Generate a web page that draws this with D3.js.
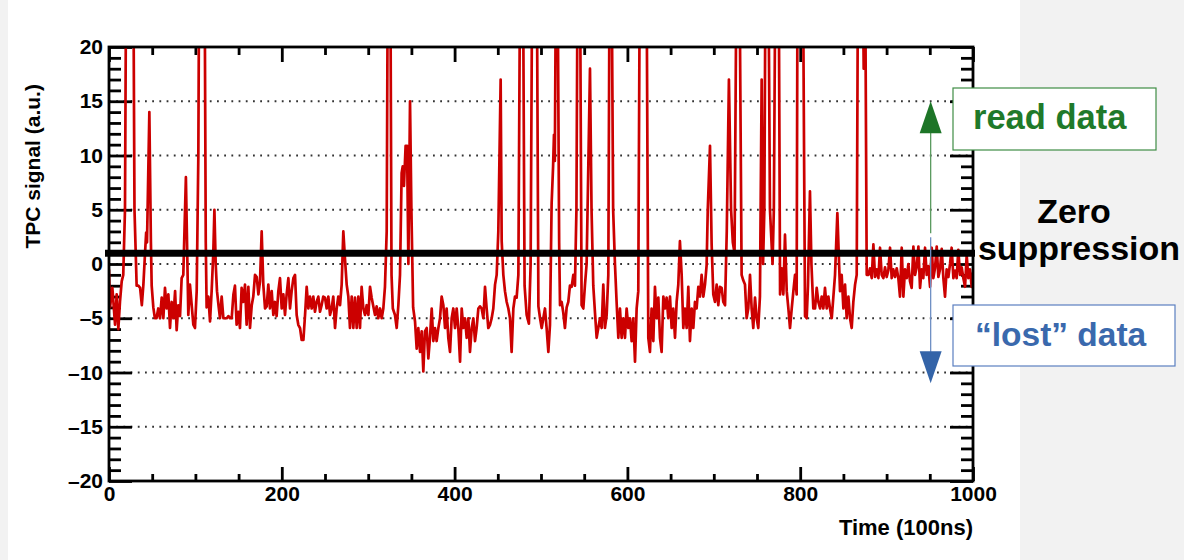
<!DOCTYPE html>
<html>
<head>
<meta charset="utf-8">
<script src="https://cdn.jsdelivr.net/npm/d3@7"></script>
<style>
body{margin:0;background:#f2f2f2;}
svg{display:block;font-family:"Liberation Sans",Arial,Helvetica,sans-serif;font-weight:bold;}
</style>
</head>
<body>
<div id="chart"></div>
<script>
// ---- data: [time (100ns), TPC signal (a.u.)], values above 20 are off scale ----
var signalA=[[0,-0.5],[1.2,-4],[3.9,-2.2],[7,-5.6],[8.9,-2.8],[10.8,-6],[12.7,-3.5],[14.7,-1.6],[16.5,-1],[18.5,5],[20,30],[28,30],[29.5,5],[32,-2],[34,-2],[36,-2.2],[38,-3.8],[39.8,-1.9],[41.7,1],[43,2.9],[44,2],[46.7,14],[48.5,2],[49.4,-2],[51.3,-4],[53.1,-5],[55,-5],[57,-4.1],[59,-5],[61,-3.1],[62.9,-5],[64.8,-2.2],[66.7,-4.1],[68.7,-2.8],[70.6,-5.9],[72.5,-3.5],[74.5,-5],[76.5,-2.5],[78.3,-6.1],[80.2,-3.8],[82.2,-4.8],[84.1,-1.3],[86,-1],[89,8],[91.8,-4.7],[93.7,-1.9],[95.7,-3.8],[97.6,-5.6],[99.5,-5.9],[101.5,-2.5],[103.4,10],[104.5,30],[110.5,30],[112,2],[113,-4],[115,-3],[116.9,-5.3],[118.8,-2.5],[120.7,1],[122,5],[123.5,0],[125,-2.5],[127,-4],[128.5,-5],[130.4,-3],[132.4,-5],[134.3,-5],[136.3,-5],[138.2,-4.8],[140.1,-5],[142,-5],[144,-2.8],[145.8,-2],[147.7,-5.6],[149.7,-4.4],[151.6,-5.9],[153.5,-2.2],[155.5,-3.5],[157.4,-1.9],[159.3,-5.6],[161.3,-2.1],[163.2,-5.9],[165.2,-3.8],[167,-3],[169,-1],[171,-1.2],[172.9,-2.8],[174.8,-1.6],[176.7,3],[178.6,-1.9],[180.6,-4.1],[182.5,-3.9],[184.4,-1.9],[186.3,-4.1],[188.3,-2.5],[190.2,-4.7],[192.1,-3.5],[194,-4.8],[196,-2.5],[197.9,-1.3],[199.9,-4.1],[201.8,-2.8],[203.7,-4.7],[205.6,-2.8],[207.6,-1.3],[209.5,-4.1],[211.4,-2.5],[213.4,-1.3],[215.3,-1],[217.2,-4.7],[219.1,-5.6],[221.1,-5.9],[223,-7],[225,-7],[226.9,-4.7],[228.8,-2.1],[230.7,-4.1],[232.6,-3],[234.6,-4.1],[236.5,-3],[238.4,-4.4],[240.3,-3.5],[242.3,-3],[244.2,-4.4],[246.1,-3.8],[248,-3],[250,-3.1]];
var signalB=[[251.9,-4.1],[253.9,-3],[255.8,-4.7],[257.7,-4.1],[259.6,-3],[261.6,-5.9],[263.5,-4.1],[265.4,-3],[267.4,-3.8],[269.3,-1.9],[271.2,3],[273.1,0.5],[275.1,-1.9],[277,-3],[278.9,-5.9],[280.9,-3],[282.8,-5.9],[284.7,-3.1],[286.7,-5.9],[288.6,-3],[290.5,-5.9],[292.4,-2.1],[294.4,-4.1],[296.3,-4.7],[298.2,-3.8],[300.2,-4.7],[302.1,-2.1],[304,-3.1],[305.9,-3.9],[307.9,-4.7],[309.8,-3.9],[311.7,-5],[313.7,-4.1],[315.6,-5],[317.5,-4.1],[319.4,-2.1],[321.4,3],[322.8,30],[325.5,30],[327,-1],[328.5,-4.1],[331,-4.7],[333,-5.9],[334.9,-3.8],[336.8,-1],[338.7,8.4],[340,9],[341.4,7.2],[343.3,10.9],[345,10.9],[346.5,0],[348.4,15],[350,5],[352,-4],[354.2,-5.3],[356.1,-7.8],[358,-5.9],[360,-8.1],[361.9,-6.2],[363.8,-9.9],[365.7,-6.2],[367.7,-5.9],[369.6,-8.7],[371.5,-6.8],[373.5,-4.1],[375.4,-7.1],[377.3,-5.9],[379.2,-7.1],[381.2,-5.9],[383.1,-5],[385,-3],[387,-3.8],[388.9,-5.9],[390.8,-4.1],[392.7,-6.8],[394.7,-8.1],[396.6,-5],[398.5,-4.1],[400.5,-5.9],[402.4,-4.1],[404.3,-5.9],[406.3,-9],[408.2,-4.1],[410.1,-5.9],[412,-5],[414,-6.8],[415.9,-5],[417.8,-8.1],[419.8,-5.9],[421.7,-5],[423.6,-7.1],[425.5,-5.9],[427.5,-4.1],[429.4,-3.9],[431.3,-4.1],[433.3,-5],[435.2,-2.1],[437.1,-4.1],[439,-5.9],[441,-5.6],[442.9,-5],[444.8,-4.1],[446.8,-1.9],[448.7,-1],[450.6,3],[453.3,17],[454.5,2.1],[456.4,-1],[458.3,-2.5],[460.3,-3.5],[462.2,-4.1],[464.1,-5],[466,-8.1],[468,-4.1],[469.9,-3],[471.8,-3.1],[473.8,-1],[476,30],[479,30],[481,-2],[483.4,-4.7],[486,-5.5],[488,0],[490,30],[495,30],[497,-3.9],[498.9,-5],[500.8,-5.9],[502.7,-5]];
var signalC=[[504.6,-4.1],[506.5,-5.9],[508.5,-8.1],[510.4,-5.6],[512.3,5.6],[514,9],[515,11.9],[516,9.5],[517.5,30],[519,30],[521,2],[522,-3.8],[523.9,-3.5],[525.8,-4.5],[527.7,-5.9],[529.7,-4],[531.6,-3.5],[533.5,-2],[535.5,-2.1],[537.4,-1],[539.3,-2],[541,5],[542.5,30],[545,30],[547,-3.8],[549,-4.1],[550.9,-1.9],[552.8,0],[556.7,18],[558.5,5],[560.5,-2],[562.5,-4.5],[564.4,-6.8],[566.3,-5.9],[568.3,-5],[570.2,-5.9],[572.1,-1.9],[574,-5.9],[576,-4.7],[577.9,-1],[579.5,30],[581.5,30],[583.5,5],[585.6,0],[587.5,-3.5],[589.5,-6.8],[591.4,-4.1],[593.3,-6.8],[595.3,-5],[597.2,-6.8],[599.1,-4.1],[601.1,-5.9],[603,-5],[604.9,-7.1],[606.8,-5],[608.8,-9],[610.7,-4.1],[612.6,-2.5],[614.5,30],[622,30],[624.2,-6.8],[626.1,-8.1],[628,-4.1],[630,-7.1],[631.9,-2.1],[633.8,-5],[635.8,-3.1],[637.7,-6.8],[639.6,-8.1],[641.6,-3],[643.5,-4.1],[645.4,-3.1],[647.3,-5],[649.3,-3],[651.2,-5.9],[653.1,-4.1],[655.1,-6.8],[657,-3.5],[658.9,-1.9],[660.8,2.1],[662.8,-1],[664.7,-5.9],[666.6,-4.1],[668.6,-5.9],[670.5,-2.1],[672.4,-7.1],[674.4,-4.1],[676.3,-5.9],[678.2,-3.5],[680.1,-4.1],[682.1,-2.1],[684,-3],[685.9,-1],[687.9,-3],[689.8,-1.9],[691.7,-0.1],[693,5],[695.6,10.9],[697.5,1.8],[699.4,-2.8],[701.4,-3.5],[703.3,-1.9],[705.2,-3.8],[707.1,-2.1],[709.1,-2.2],[711,-3.5],[713,-3.8],[715,3],[717.5,17],[720,5],[722,2],[724,1],[726.5,30],[729.5,30],[732.2,-1],[734.1,-1.5],[736.1,-1.9],[738,-5],[739.9,-4.1],[741.9,-1],[743.8,-4.1],[745.7,-5.9],[747.7,-3.1],[749.6,-5]];
var signalD=[[751.5,-5.9],[753.4,-3],[755.4,17],[757,0],[758.5,5],[760,30],[763,30],[765,5],[768,0],[769.5,5],[771.5,30],[775,30],[776.7,-2.8],[778.6,-0.4],[780.5,-2.8],[782.4,2.7],[784.4,-2.5],[786.3,-4.1],[788.2,-5.9],[790.2,-4.1],[792.1,-2.5],[794,-1],[795.9,-2.8],[797,30],[803,30],[805.6,-4.8],[807.5,-5],[809,-2],[811.3,6.7],[813,0],[815.2,-4.1],[817.2,-4.1],[819.1,-2.2],[821,-3.5],[823,-4.1],[824.9,-3],[826.8,-4.1],[828.7,-2.2],[830.7,-4.1],[832.6,-3],[834.5,-4.1],[836.5,-5],[838.4,-3],[840.3,-1],[843,4.7],[846.1,-2.5],[848,-1],[850,-4.1],[851.9,-1.9],[853.8,-5],[855.8,-3],[857.7,-5],[859.6,-5.9],[861.5,-3.5],[863.5,-1.9],[865.4,-1],[867,30],[872,30],[873.5,18],[875,30],[877,-1],[878.9,-1],[880.8,-0.4],[882.8,-1.3],[884.7,1.8],[886.6,-1.2],[888.5,-0.5],[890.5,-1.3],[892.4,1.5],[894.3,-1],[896.3,-1.3],[898.2,-0.3],[900.1,-1.2],[902,-0.6],[904,1.5],[905.9,-1.3],[907.8,-0.5],[909.8,-1.2],[911.7,-0.4],[913.6,-1.3],[915.5,-3],[917.5,1.5],[919.4,-3],[921.3,-0.5],[923.3,-1.3],[925.2,0],[927.1,-1.6],[929,-2.2],[931,1.6],[932.9,-1],[934.8,-0.3],[936.8,1.6],[938.7,-2.2],[940.6,-0.5],[942.5,-1.3],[944.5,1.5],[946.4,-1],[948.3,-0.2],[950.3,-2.1],[952.2,1.5],[954.1,-1.3],[956,-0.4],[958,1.6],[959.9,-1.2],[961.8,-0.5],[963.8,1.4],[965.7,-1.3],[967.6,-3],[969.5,-0.5],[971.5,-1.2],[973.4,0],[975.3,1.5],[977.3,-1.3],[979.2,-0.6],[981.1,-1.3],[983,1.3],[985,-1],[986.9,-0.3],[988.8,-1.3],[990.8,-2.1],[992.7,0.8],[994.6,-1.3],[996.5,-0.5],[998.5,-2.1],[1000,-0.8]];

var xMajor=[0,200,400,600,800,1000];
var xMinor=[50,100,150,250,300,350,450,500,550,650,700,750,850,900,950];
var yMajor=[-20,-15,-10,-5,0,5,10,15,20];
var gridValues=[-15,-10,-5,0,5,10,15];
var threshold=1;          // zero suppression level
var readTip=15, lostTip=-11, arrowTime=951;

var W=1184, H=560;
var svg=d3.select("#chart").append("svg").attr("width",W).attr("height",H);
svg.append("rect").attr("x",8).attr("y",0).attr("width",1012).attr("height",H).attr("fill","#ffffff");

var x=d3.scaleLinear().domain([0,1000]).range([109,973]);
var y=d3.scaleLinear().domain([-20,20]).range([481,47]);
var fmt=function(d){return d<0?"\u2013"+Math.abs(d):String(d);};

// grid
svg.append("g").selectAll("line").data(gridValues).enter().append("line")
    .attr("x1",x(0)).attr("x2",x(1000))
    .attr("y1",function(d){return y(d);}).attr("y2",function(d){return y(d);})
    .attr("stroke","#333").attr("stroke-width",1.8).attr("stroke-dasharray","1.8,5.4");

// axes, ROOT style ticks pointing inwards
var styleAxis=function(g,fs){
    g.select(".domain").remove();
    g.selectAll(".tick line").attr("stroke","#000").attr("stroke-width",2.8);
    g.selectAll("text").attr("fill","#000").style("font-size",fs+"px").style("font-weight","bold");
};
var yMinor=d3.range(-20,21).filter(function(d){return d%5!==0;});
svg.append("g").attr("transform","translate("+x(0)+",0)")
    .call(d3.axisLeft(y).tickValues(yMajor).tickSize(-23).tickPadding(6).tickFormat(fmt)).call(styleAxis,21);
svg.append("g").attr("transform","translate("+x(0)+",0)")
    .call(d3.axisLeft(y).tickValues(yMinor).tickSize(-12).tickFormat("")).call(styleAxis,21);
svg.append("g").attr("transform","translate("+x(1000)+",0)")
    .call(d3.axisRight(y).tickValues(yMajor).tickSize(-23).tickFormat("")).call(styleAxis,21);
svg.append("g").attr("transform","translate("+x(1000)+",0)")
    .call(d3.axisRight(y).tickValues(yMinor).tickSize(-12).tickFormat("")).call(styleAxis,21);
svg.append("g").attr("transform","translate(0,"+y(-20)+")")
    .call(d3.axisBottom(x).tickValues(xMajor).tickSize(-14).tickPadding(5).tickFormat(d3.format("d"))).call(styleAxis,21);
svg.append("g").attr("transform","translate(0,"+y(-20)+")")
    .call(d3.axisBottom(x).tickValues(xMinor).tickSize(-7).tickFormat("")).call(styleAxis,21);
svg.append("g").attr("transform","translate(0,"+y(20)+")")
    .call(d3.axisTop(x).tickValues(xMajor).tickSize(-15).tickFormat("")).call(styleAxis,21);
svg.append("g").attr("transform","translate(0,"+y(20)+")")
    .call(d3.axisTop(x).tickValues(xMinor).tickSize(-8).tickFormat("")).call(styleAxis,21);

// signal
svg.append("clipPath").attr("id","frame-clip").append("rect")
    .attr("x",x(0)).attr("y",y(20)).attr("width",x(1000)-x(0)).attr("height",y(-20)-y(20));
var signal=signalA.concat(signalB,signalC,signalD);
var line=d3.line().x(function(d){return x(d[0]);}).y(function(d){return y(d[1]);});
svg.append("path").datum(signal).attr("clip-path","url(#frame-clip)")
    .attr("d",line).attr("fill","none").attr("stroke","#cc0000")
    .attr("stroke-width",2.7).attr("stroke-linejoin","round");

// frame
svg.append("rect").attr("x",x(0)).attr("y",y(20)).attr("width",x(1000)-x(0)).attr("height",y(-20)-y(20))
    .attr("fill","none").attr("stroke","#000").attr("stroke-width",2.8);

// axis titles
svg.append("text").attr("x",x(1000)).attr("y",535).attr("text-anchor","end")
    .style("font-size","22px").text("Time (100ns)");
svg.append("text").attr("transform","translate(40,"+y(9)+") rotate(-90)").attr("text-anchor","middle")
    .style("font-size","21px").text("TPC signal (a.u.)");

// zero suppression threshold
svg.append("line").attr("x1",x(0)-4).attr("x2",x(1000)+2).attr("y1",y(threshold)).attr("y2",y(threshold))
    .attr("stroke","#000").attr("stroke-width",7);

// arrows
var ax=x(arrowTime);
svg.append("line").attr("x1",ax).attr("x2",ax).attr("y1",y(threshold)-20).attr("y2",y(readTip)+30)
    .attr("stroke","#5a9a5f").attr("stroke-width",1.3);
svg.append("path").attr("d","M"+ax+","+y(readTip)+"L"+(ax-11)+","+(y(readTip)+32)+"L"+(ax+11)+","+(y(readTip)+32)+"Z")
    .attr("fill","#1d7527");
svg.append("line").attr("x1",ax).attr("x2",ax).attr("y1",y(threshold)-16).attr("y2",y(lostTip)-31)
    .attr("stroke","#6f8fc4").attr("stroke-width",1.3);
svg.append("path").attr("d","M"+ax+","+y(lostTip)+"L"+(ax-11)+","+(y(lostTip)-32)+"L"+(ax+11)+","+(y(lostTip)-32)+"Z")
    .attr("fill","#3464a8");

// labels
svg.append("rect").attr("x",953).attr("y",88).attr("width",203).attr("height",62)
    .attr("fill","#fff").attr("stroke","#3f8d45").attr("stroke-width",1.2);
svg.append("text").attr("x",973).attr("y",129).attr("fill","#1f7a2a").style("font-size","34.5px").text("read data");
svg.append("rect").attr("x",953).attr("y",305).attr("width",222).attr("height",61)
    .attr("fill","#fff").attr("stroke","#5b7fc0").attr("stroke-width",1.2);
svg.append("text").attr("x",975).attr("y",346).attr("fill","#3a69ad").style("font-size","33.5px").text("\u201clost\u201d data");
svg.append("text").attr("x",1074).attr("y",223).attr("text-anchor","middle").attr("fill","#000")
    .style("font-size","34px").text("Zero");
svg.append("text").attr("x",1079).attr("y",260).attr("text-anchor","middle").attr("fill","#000")
    .style("font-size","34px").text("suppression");
</script>
</body>
</html>
